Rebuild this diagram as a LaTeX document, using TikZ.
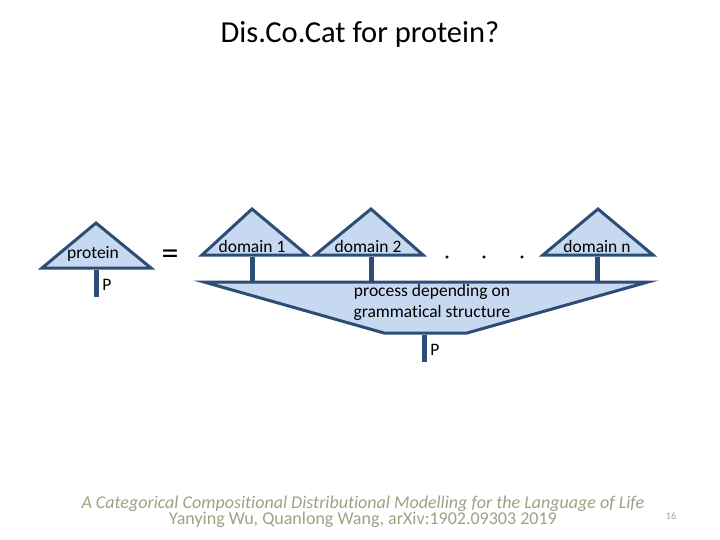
\documentclass[tikz,border=0pt]{standalone}
\usepackage{fontspec}
\setmainfont{Carlito}[Ligatures=NoCommon]
\definecolor{boxfill}{RGB}{198,217,241}
\definecolor{boxline}{RGB}{44,77,117}
\definecolor{citegray}{RGB}{160,160,132}
\tikzset{
  tri/.style={draw=boxline, fill=boxfill, line width=3pt, line join=miter},
  wire/.style={draw=boxline, line width=5pt},
  lbl/.style={inner sep=0pt, font=\fontsize{17.5}{21}\selectfont}
}
\begin{document}
\begin{tikzpicture}[x=1pt,y=-1pt]
    \useasboundingbox (0,0) rectangle (720,540);
    % Titolo
    \node (title) at (360,34) {\fontsize{30.5}{34}\selectfont Dis.Co.Cat for protein?};
    % Protein
    \draw [tri] (42,268) -- (96,223) -- (151,268) -- cycle;
    \coordinate (pin) at (96,269.5);
    \coordinate (pout) at (96,297);
    \draw [wire] (pin) -- (pout);
    \node [lbl] (protein) at (93,254) {protein};
    \node [lbl] (p1) at (107,285) {P};
    \node (eq) at (170,257) {\fontsize{34}{34}\selectfont =};
    % Funnel
    \draw [tri] (204,282) -- (648,282) -- (467,333) -- (384,333) -- cycle;
    \node [lbl, align=center] (proc) at (432,302) {process depending on\\grammatical structure};
    \coordinate (fout) at (424,334.5);
    \coordinate (fend) at (424,362);
    \draw [wire] (fout) -- (fend);
    \node [lbl] (p2) at (435,350) {P};
    % Domini
    \draw [tri] (202,255) -- (252,209) -- (307,255) -- cycle;
    \draw [tri] (315,255) -- (371,209) -- (423,255) -- cycle;
    \draw [tri] (543,255) -- (598,209) -- (653,255) -- cycle;
    \node [lbl] (dom1) at (252,246) {domain 1};
    \node [lbl] (dom2) at (368,246) {domain 2};
    \node [lbl] (domn) at (597,246) {domain n};
    \coordinate (d1a) at (252,256.5);
    \coordinate (d1b) at (252,280.5);
    \coordinate (d2a) at (371,256.5);
    \coordinate (d2b) at (371,280.5);
    \coordinate (dna) at (597,256.5);
    \coordinate (dnb) at (597,280.5);
    \draw [wire] (d1a) -- (d1b);
    \draw [wire] (d2a) -- (d2b);
    \draw [wire] (dna) -- (dnb);
    % Punti
    \filldraw[black] (447,257) circle (1.3pt);
    \filldraw[black] (484,257) circle (1.3pt);
    \filldraw[black] (522,257) circle (1.3pt);
    % Riferimento
    \node [text=citegray, align=center] (cite) at (363,512)
      {\fontsize{18}{23}\selectfont\itshape A Categorical Compositional Distributional Modelling for the Language of Life\\
       \fontsize{18}{23}\selectfont\upshape Yanying Wu, Quanlong Wang, arXiv:1902.09303 2019};
    \node [text=citegray] (page) at (671,516) {\fontsize{10}{12}\selectfont 16};
\end{tikzpicture}
\end{document}
